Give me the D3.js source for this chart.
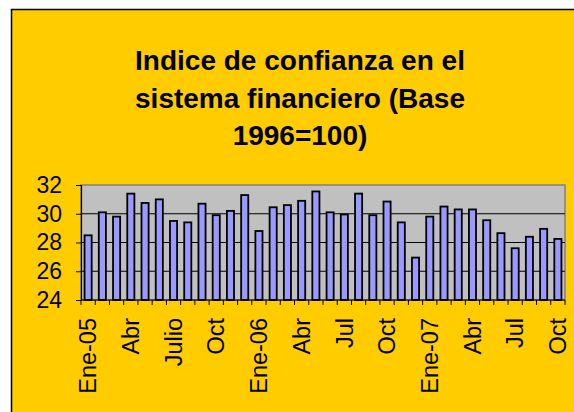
<!DOCTYPE html>
<html>
<head>
<meta charset="utf-8">
<script src="https://cdn.jsdelivr.net/npm/d3@7"></script>
<style>
  html, body { margin: 0; padding: 0; background: #ffffff; }
  svg { display: block; }
</style>
</head>
<body>
<div id="chart"></div>
<script>
const months = ["Ene-05","Feb-05","Mar-05","Abr-05","May-05","Jun-05","Jul-05","Ago-05","Sep-05","Oct-05","Nov-05","Dic-05",
                "Ene-06","Feb-06","Mar-06","Abr-06","May-06","Jun-06","Jul-06","Ago-06","Sep-06","Oct-06","Nov-06","Dic-06",
                "Ene-07","Feb-07","Mar-07","Abr-07","May-07","Jun-07","Jul-07","Ago-07","Sep-07","Oct-07"];
const values = [28.5, 30.1, 29.8, 31.4, 30.75, 31.0, 29.5, 29.4, 30.7, 29.9, 30.2, 31.3,
                28.8, 30.45, 30.6, 30.9, 31.55, 30.1, 29.95, 31.4, 29.9, 30.85, 29.4, 26.95,
                29.8, 30.5, 30.3, 30.3, 29.55, 28.65, 27.6, 28.4, 28.95, 28.25];
const tickLabels = ["Ene-05","Abr","Julio","Oct","Ene-06","Abr","Jul","Oct","Ene-07","Abr","Jul","Oct"];
const labelIndex = [0,3,6,9,12,15,18,21,24,27,30,33];
const yTicks = [24, 26, 28, 30, 32];
const titleLines = ["Indice de confianza en el", "sistema financiero (Base", "1996=100)"];

const W = 574, H = 412;
const plot = {left: 81, right: 565, top: 185, bottom: 300};
const FONT = "Liberation Sans, Arial, sans-serif";

const svg = d3.select("#chart").append("svg").attr("width", W).attr("height", H);

// outer chart area
svg.append("rect").attr("x", 11.5).attr("y", 9.5).attr("width", W).attr("height", H)
  .attr("fill", "#FFCC00").attr("stroke", "#000").attr("stroke-width", 1.5);

// title
const title = svg.append("text").attr("text-anchor", "middle")
  .attr("font-family", FONT).attr("font-weight", "bold")
  .attr("font-size", 28).attr("fill", "#000");
titleLines.forEach((t, i) => {
  title.append("tspan").attr("x", 300).attr("y", 70 + i * 37.5).text(t);
});

const x = d3.scaleBand().domain(d3.range(months.length)).range([plot.left, plot.right]).paddingInner(0.5).paddingOuter(0.25);
const y = d3.scaleLinear().domain([24, 32]).range([plot.bottom, plot.top]);

// plot background
svg.append("rect").attr("x", plot.left).attr("y", plot.top)
  .attr("width", plot.right - plot.left).attr("height", plot.bottom - plot.top)
  .attr("fill", "#C0C0C0").attr("stroke", "#808080").attr("stroke-width", 1.5);

// gridlines
svg.append("g").selectAll("line").data(yTicks.slice(1, -1)).join("line")
  .attr("x1", plot.left).attr("x2", plot.right)
  .attr("y1", d => y(d)).attr("y2", d => y(d))
  .attr("stroke", "#000").attr("stroke-width", 1);

// bars
svg.append("g").selectAll("rect").data(values).join("rect")
  .attr("x", (d, i) => x(i))
  .attr("width", x.bandwidth())
  .attr("y", d => y(d))
  .attr("height", d => y(24) - y(d))
  .attr("fill", "#9999FF").attr("stroke", "#000").attr("stroke-width", 1.8);

// y axis
const yAxis = svg.append("g").attr("transform", `translate(${plot.left},0)`)
  .call(d3.axisLeft(y).tickValues(yTicks).tickSize(5).tickPadding(14).tickFormat(d3.format("d")));
yAxis.select(".domain").attr("stroke", "#000").attr("stroke-width", 1.2);
yAxis.selectAll(".tick line").attr("stroke", "#000");
yAxis.selectAll("text").attr("font-family", FONT).attr("font-size", 23).attr("fill", "#000");

// x axis: ticks at category boundaries
const boundaries = d3.range(months.length + 1).map(i => plot.left + i * (plot.right - plot.left) / months.length);
svg.append("line").attr("x1", plot.left).attr("x2", plot.right).attr("y1", plot.bottom).attr("y2", plot.bottom)
  .attr("stroke", "#000").attr("stroke-width", 1.2);
svg.append("g").selectAll("line").data(boundaries).join("line")
  .attr("x1", d => d).attr("x2", d => d).attr("y1", plot.bottom).attr("y2", plot.bottom + 5)
  .attr("stroke", "#000").attr("stroke-width", 1);

// x labels
svg.append("g").selectAll("text").data(labelIndex).join("text")
  .attr("transform", d => `translate(${x(d) + x.bandwidth() / 2},318) rotate(-90)`)
  .attr("text-anchor", "end").attr("dy", "0.35em")
  .attr("font-family", FONT).attr("font-size", 23.5).attr("fill", "#000")
  .text((d, k) => tickLabels[k]);
</script>
</body>
</html>
